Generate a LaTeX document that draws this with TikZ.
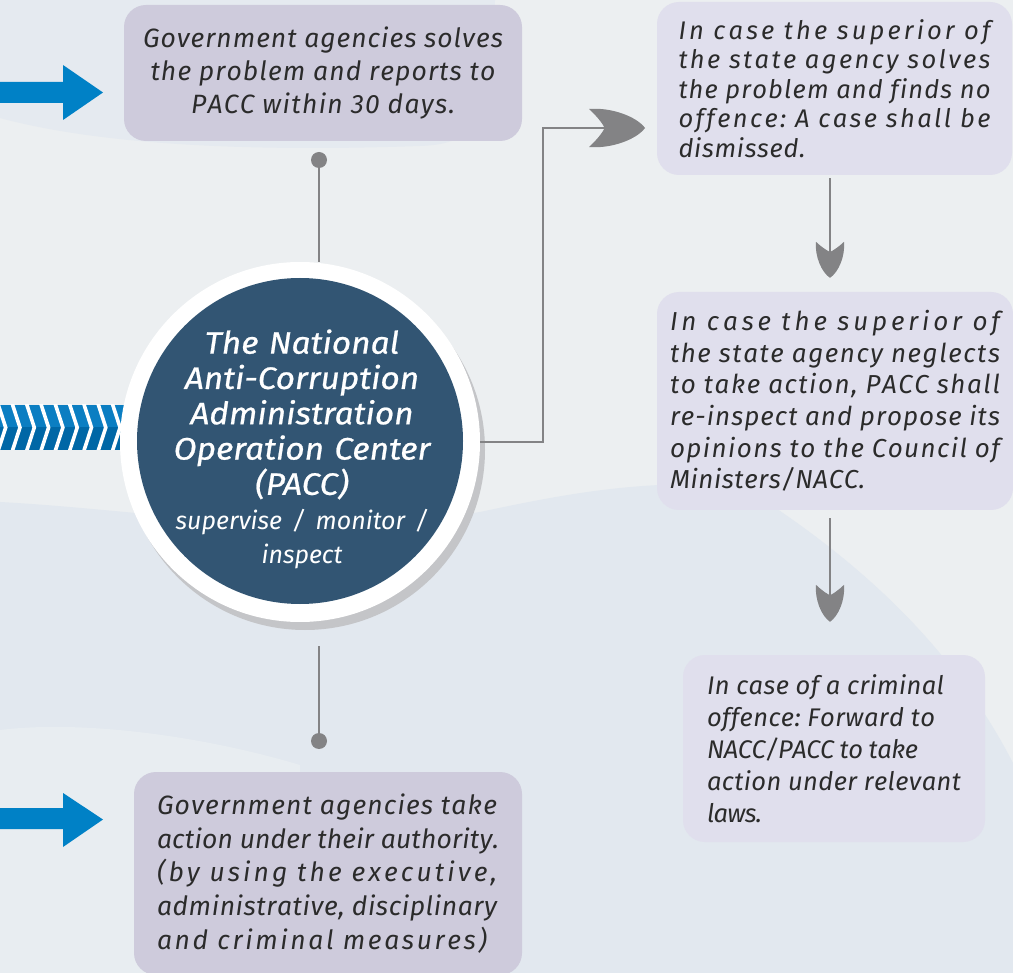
\documentclass[tikz,border=0pt]{standalone}
\usepackage{fontspec}
\setmainfont{Fira Sans}
\newfontfamily\titlefont{Fira Sans}[FakeStretch=1.08, FakeBold=0.7]
\usetikzlibrary{arrows.meta,calc}

\definecolor{bgbase}{HTML}{ECEFF1}
\definecolor{bgtop}{HTML}{E5EAF0}
\definecolor{bglow}{HTML}{E2E8EF}
\definecolor{bglight}{HTML}{E8EDF1}
\definecolor{boxdarkc}{HTML}{CECBDC}
\definecolor{boxlightc}{HTML}{E0DFED}
\definecolor{paccblue}{HTML}{325573}
\definecolor{shadowc}{HTML}{C4C5C8}
\definecolor{linegrey}{HTML}{838385}
\definecolor{textc}{HTML}{2B2B2B}
\definecolor{arrowblue}{HTML}{0081C6}
\definecolor{stripa}{HTML}{0B7EC2}
\definecolor{stripb}{HTML}{0067A6}

% leaf-shaped arrow tip with convex sides and a notched back
\pgfdeclarearrow{
  name = Leaf,
  parameters = {\the\pgfarrowlength,\the\pgfarrowwidth},
  setup code = {
    \pgfarrowssettipend{0pt}
    \pgfarrowssetlineend{-.6\pgfarrowlength}
    \pgfarrowssetbackend{-\pgfarrowlength}
    \pgfarrowssetvisualbackend{-.7\pgfarrowlength}
    \pgfarrowshullpoint{0pt}{0pt}
    \pgfarrowsupperhullpoint{-\pgfarrowlength}{.5\pgfarrowwidth}
    \pgfarrowssavethe\pgfarrowlength
    \pgfarrowssavethe\pgfarrowwidth
  },
  drawing code = {
    \pgfpathmoveto{\pgfqpoint{0pt}{0pt}}
    \pgfpathcurveto{\pgfqpoint{-.15\pgfarrowlength}{.3\pgfarrowwidth}}
                   {\pgfqpoint{-.6\pgfarrowlength}{.55\pgfarrowwidth}}
                   {\pgfqpoint{-\pgfarrowlength}{.5\pgfarrowwidth}}
    \pgfpathcurveto{\pgfqpoint{-.85\pgfarrowlength}{.3\pgfarrowwidth}}
                   {\pgfqpoint{-.75\pgfarrowlength}{.1\pgfarrowwidth}}
                   {\pgfqpoint{-.72\pgfarrowlength}{0pt}}
    \pgfpathcurveto{\pgfqpoint{-.75\pgfarrowlength}{-.1\pgfarrowwidth}}
                   {\pgfqpoint{-.85\pgfarrowlength}{-.3\pgfarrowwidth}}
                   {\pgfqpoint{-\pgfarrowlength}{-.5\pgfarrowwidth}}
    \pgfpathcurveto{\pgfqpoint{-.6\pgfarrowlength}{-.55\pgfarrowwidth}}
                   {\pgfqpoint{-.15\pgfarrowlength}{-.3\pgfarrowwidth}}
                   {\pgfqpoint{0pt}{0pt}}
    \pgfpathclose
    \pgfusepathqfill
  },
  defaults = {length = 36pt, width = 28pt}
}

% one line of text stretched to a given width by spacing out its letters
\ExplSyntaxOn
\seq_new:N \l__spr_words_seq
\bool_new:N \l__spr_first_bool
\NewDocumentCommand \spreadline { m m }
  {
    \seq_set_split:Nnn \l__spr_words_seq { ~ } {#2}
    \mode_leave_vertical:
    \hbox_to_wd:nn {#1}
      {
        \bool_set_true:N \l__spr_first_bool
        \seq_map_inline:Nn \l__spr_words_seq
          {
            \bool_if:NF \l__spr_first_bool
              { \hskip 0.25em plus 1fil minus 0.1em }
            \bool_set_false:N \l__spr_first_bool
            \tl_map_inline:nn {##1} { ####1 \hskip 0pt plus 1fil minus 0.05em }
            \unskip
          }
      }
  }
\ExplSyntaxOff

\tikzset{
  boxdark/.style={rectangle, rounded corners=22pt, fill=boxdarkc, text=textc, inner sep=0pt},
  boxlight/.style={rectangle, rounded corners=22pt, fill=boxlightc, text=textc, inner sep=0pt},
  conn/.style={draw=linegrey, line width=1.6pt},
  dotnode/.style={circle, fill=linegrey, minimum size=16pt, inner sep=0pt},
}

\begin{document}
\begin{tikzpicture}[x=1pt, y=-1pt]
\useasboundingbox (0,0) rectangle (1013,973);

% background with soft waves
\fill[bgbase] (0,0) rectangle (1013,973);
\fill[bgtop] (0,0) -- (0,118) .. controls (100,145) and (250,152) .. (420,146)
  .. controls (470,144) and (490,130) .. (495,0) -- cycle;
\fill[bglow] (0,502) .. controls (150,510) and (300,540) .. (480,512)
  .. controls (560,495) and (620,484) .. (700,484)
  .. controls (740,485) and (765,500) .. (783,513)
  .. controls (880,580) and (960,660) .. (1013,763)
  -- (1013,973) -- (0,973) -- cycle;
\fill[bglight] (0,730) .. controls (80,720) and (200,735) .. (300,765)
  -- (300,973) -- (0,973) -- cycle;

% blue block arrows on the left
\fill[arrowblue] (0,82) -- (63,82) -- (63,65) -- (103,92.5) -- (63,120) -- (63,103) -- (0,103) -- cycle;
\fill[arrowblue] (0,808) -- (63,808) -- (63,793) -- (103,819.5) -- (63,847) -- (63,829) -- (0,829) -- cycle;

% chevron strip
\begin{scope}
  \clip (0,405) rectangle (125,450);
  \fill[stripa] (0,405) rectangle (125,427.5);
  \fill[stripb] (0,427.5) rectangle (125,450);
  \foreach \i in {-1,...,8}
    \draw[white, line width=3.6pt] ({20+14.3*\i-8},403) -- ({20+14.3*\i},427.5) -- ({20+14.3*\i-8},452);
\end{scope}

% central circle
\fill[shadowc] (305,450) circle (180);
\node[circle, fill=white, minimum size=360pt, inner sep=0pt] (ring) at (300,442) {};
\node[circle, fill=paccblue, minimum size=326pt, inner sep=0pt] (pacc) at (300,441) {};
\node[text=white, text width=320pt, align=center, inner sep=0pt,
      font={\titlefont\fontsize{31}{35.3}\selectfont\itshape}] (pacctext) at (302,449)
  {The National\\ Anti-Corruption\\ Administration\\ Operation Center\\ (PACC)\par
   \normalfont\fontsize{25}{35}\selectfont\itshape supervise / monitor /\\[-2pt] inspect};

% boxes
\node[boxdark, minimum width=398pt, minimum height=136pt, align=center,
      font={\fontsize{26.5}{33}\selectfont\itshape}] (solves) at (323,73)
  {\spreadline{360pt}{Government agencies solves}\\
   \spreadline{345pt}{the problem and reports to}\\
   \spreadline{264pt}{PACC within 30 days.}};

\node[boxlight, minimum width=355pt, minimum height=173pt, text width=312pt, align=left,
      font={\fontsize{25.5}{29.5}\selectfont\itshape}] (dismiss) at (834.5,88.5)
  {\spreadline{312pt}{In case the superior of}\\
   \spreadline{312pt}{the state agency solves}\\
   \spreadline{312pt}{the problem and finds no}\\
   \spreadline{312pt}{offence: A case shall be}\\
   \spreadline{127pt}{dismissed.}};

\node[boxlight, minimum width=356pt, minimum height=218pt, text width=330pt, align=left,
      font={\fontsize{26}{31.6}\selectfont\itshape}] (neglect) at (835,401)
  {\spreadline{330pt}{In case the superior of}\\
   \spreadline{330pt}{the state agency neglects}\\
   \spreadline{330pt}{to take action, PACC shall}\\
   \spreadline{330pt}{re-inspect and propose its}\\
   \spreadline{330pt}{opinions to the Council of}\\
   \spreadline{195pt}{Ministers/NACC.}};

\node[boxlight, minimum width=302pt, minimum height=187pt, text width=254pt, align=left,
      font={\fontsize{25.5}{32}\selectfont\itshape}] (criminal) at (834,748.5)
  {\spreadline{237pt}{In case of a criminal}\\
   \spreadline{228pt}{offence: Forward to}\\
   \spreadline{211pt}{NACC/PACC to take}\\
   \spreadline{254pt}{action under relevant}\\
   \spreadline{55pt}{laws.}};

\node[boxdark, minimum width=388pt, minimum height=203pt, text width=342pt, align=left,
      font={\fontsize{26.5}{33.7}\selectfont\itshape}] (action) at (328,873.5)
  {\spreadline{340pt}{Government agencies take}\\
   \spreadline{342pt}{action under their authority.}\\
   \spreadline{340pt}{(by using the executive,}\\
   \spreadline{340pt}{administrative, disciplinary}\\
   \spreadline{330pt}{and criminal measures)}};

% connectors
\node[dotnode] (dtop) at (319,160) {};
\draw[conn] (dtop.center) -- (dtop |- ring.north);

\node[dotnode] (dbot) at (319,741) {};
\draw[conn] ($(dbot |- ring.south)+(0,24)$) -- (dbot.center);

\coordinate (tipdismiss) at (645,128);
\draw[conn, -{Leaf[length=56pt,width=38pt]}] (ring.east) -- ++(63,0) |- (tipdismiss);

\draw[conn, -{Leaf[length=36pt,width=28pt]}, shorten <=3pt, shorten >=14pt]
  (dismiss.south -| 830,0) -- (neglect.north -| 830,0);
\draw[conn, -{Leaf[length=37pt,width=28pt]}, shorten <=8pt, shorten >=33pt]
  (neglect.south -| 830,0) -- (criminal.north -| 830,0);

\end{tikzpicture}
\end{document}
